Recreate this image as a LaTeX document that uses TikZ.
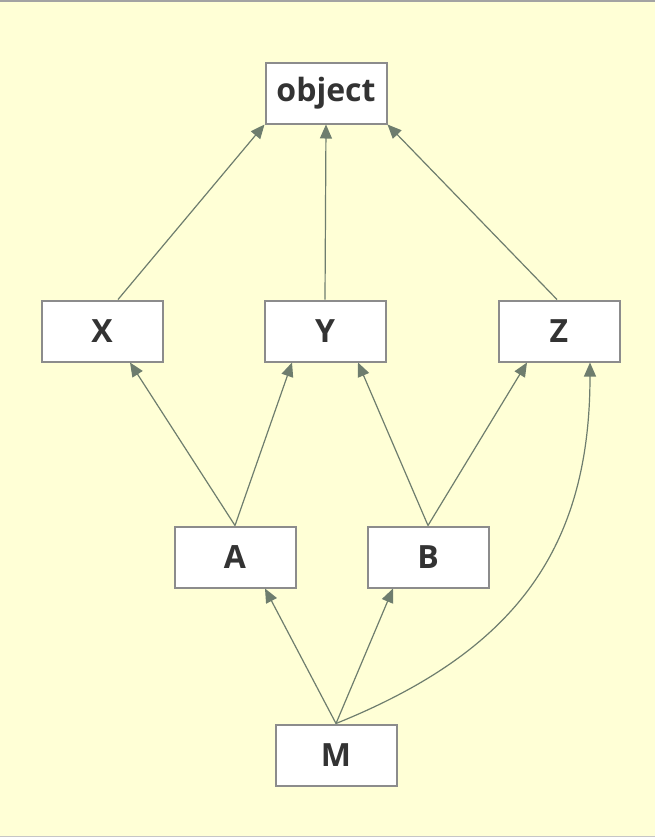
\documentclass[tikz,border=0pt]{standalone}
\usepackage{fontspec}
\setmainfont{Open Sans}
\usetikzlibrary{arrows.meta}

\definecolor{paper}{HTML}{FFFFD6}
\definecolor{boxline}{HTML}{8C8C8C}
\definecolor{linkcol}{HTML}{6E7D6E}

\tikzset{
    cls/.style={draw=boxline, line width=1pt, fill=white, minimum width=60.5pt,
        minimum height=30.5pt, inner sep=0pt, font=\fontsize{16}{18}\selectfont\bfseries,
        text=black!80},
    link/.style={draw=linkcol, line width=0.6pt, -{Triangle[length=7pt,width=6pt]}}
}

\begin{document}
\begin{tikzpicture}[x=0.5pt,y=-0.5pt]

        % background
            \fill[paper] (0,0) rectangle (655,837);
            \useasboundingbox (0,0) rectangle (655,837);
            \draw[boxline!80, line width=1.5pt] (0,0) -- (655,0);
            \draw[boxline!50, line width=1.5pt] (0,837) -- (655,837);

        % classes
            \node[cls] (obj) at (326,93) {object};
            \node[cls] (X) at (102,331) {X};
            \node[cls] (Y) at (325,331) {Y};
            \node[cls] (Z) at (559,331) {Z};
            \node[cls] (A) at (235,557) {A};
            \node[cls] (B) at (428,557) {B};
            \node[cls] (M) at (336,755) {M};

        % inheritance
            \draw[link] ([xshift=8pt]X.north) -- (obj.south west);
            \draw[link] (Y.north) -- (obj.south);
            \draw[link] ([xshift=-1pt]Z.north) -- (obj.south east);
            \draw[link] (A.north) -- ([xshift=14pt]X.south);
            \draw[link] (A.north) -- ([xshift=-16.5pt]Y.south);
            \draw[link] (B.north) -- ([xshift=16.5pt]Y.south);
            \draw[link] (B.north) -- ([xshift=-16pt]Z.south);
            \draw[link] (M.north) -- ([xshift=15pt]A.south);
            \draw[link] (M.north) -- ([xshift=-17.5pt]B.south);
            \draw[link] (M.north) to[out=22, in=-90, looseness=1.1] ([xshift=15.5pt]Z.south);
        \end{tikzpicture}
\end{document}
